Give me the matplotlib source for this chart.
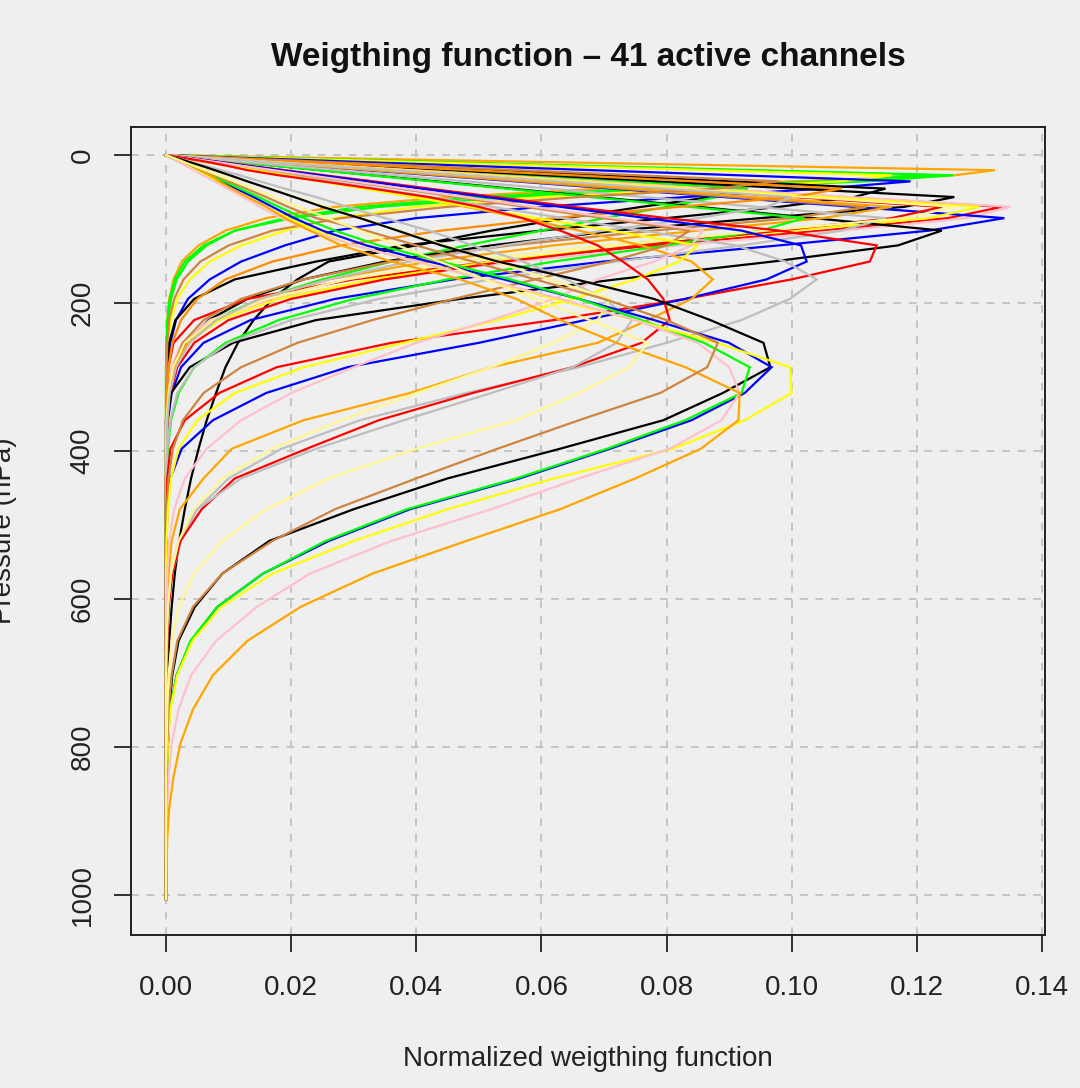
import matplotlib.pyplot as plt
import numpy as np

plt.rcParams['font.family'] = ['Liberation Sans', 'DejaVu Sans']

# pressure levels (hPa), top of atmosphere to surface
levels = [0.1, 0.29, 0.69, 1.42, 2.611, 4.407, 6.95, 10.37, 14.81, 20.4, 27.26,
          35.51, 45.29, 56.73, 69.97, 85.18, 102.05, 122.04, 143.84, 167.95,
          194.36, 222.94, 253.71, 286.6, 321.5, 358.28, 396.81, 436.95, 478.54,
          521.46, 565.54, 610.6, 656.43, 702.73, 749.12, 795.09, 839.95, 882.8,
          922.46, 957.44, 985.88, 1005.43]

# normalized weighting functions x 1000, one row per channel
# (levels below the last value listed are zero)
upper_wf = [
    [0, 1.9, 4.5, 9.3, 17, 28.6, 45, 67, 96, 132.5, 126, 100, 70, 45, 27, 16, 9.5, 5.2, 2.5, 1.2, 0.5, 0.2, 0.1],
    [0, 1.4, 3.1, 6.5, 12.1, 20.4, 32, 47.8, 68.3, 94.1, 125.8, 112, 82, 55, 34, 20, 11, 6, 3, 1.4, 0.6, 0.2, 0.1],
    [0, 1.3, 3, 6.3, 11.7, 19.8, 31, 46.4, 66.2, 91.3, 122, 105, 76, 50, 31, 19, 11, 6.5, 3.5, 1.7, 0.8, 0.3, 0.1],
    [0, 1.3, 2.9, 6, 11.1, 18.8, 29.6, 44, 63, 86.8, 116, 108, 85, 60, 40, 27, 19, 12, 7, 3.8, 1.8, 0.8, 0.3, 0.1],
    [0, 1, 2.3, 4.8, 8.8, 14.8, 23.3, 34.7, 49.6, 68.3, 91.4, 119, 105, 83, 60, 40, 27, 19, 12, 7, 3.5, 1.6, 0.7, 0.3, 0.1],
    [0, 0.7, 1.7, 3.6, 6.7, 11.2, 17.6, 26.3, 37.6, 51.8, 69.2, 90.2, 115, 110, 98, 80, 60, 38, 24, 11, 4.5, 1.5, 0.5, 0.2, 0.1],
    [0, 0.6, 1.4, 2.9, 5.4, 9, 14.2, 21.2, 30.2, 41.6, 55.7, 72.5, 92.5, 87, 76, 64, 52, 40, 26, 21, 17, 14, 11.5, 9.5, 8, 6.5, 5.2, 4, 3, 2.1, 1.4, 0.9, 0.5, 0.3, 0.1],
    [0, 0.6, 1.4, 2.9, 5.4, 9, 14.2, 21.3, 30.4, 41.9, 56, 72.9, 93, 88, 80, 70, 60, 48, 36, 25, 15, 7.5, 3.5, 1.5, 0.6, 0.2, 0.1],
    [0, 0.6, 1.5, 3.2, 5.8, 9.8, 15.5, 23.1, 32.9, 45.4, 60.6, 78.9, 100.5, 126, 118, 95, 72, 52, 35, 22, 13, 6.8, 3.2, 1.4, 0.6, 0.2, 0.1],
    [0, 0.5, 1.3, 2.7, 4.9, 8.4, 13.2, 19.8, 28.3, 39, 52.1, 67.9, 86.4, 108.3, 133.6, 125, 105, 78, 52, 30, 13, 4.5, 1.2, 0.4, 0.1],
    [0, 0.5, 1.4, 2.7, 5, 8.5, 13.4, 20, 28.6, 39.4, 52.7, 68.6, 87.3, 109.5, 135, 128, 108, 82, 56, 34, 17, 7, 2.5, 0.9, 0.3, 0.1],
    [0, 0.4, 1.1, 2.3, 4.2, 7, 11, 16.3, 23.3, 32, 42.9, 55.9, 71.3, 89.2, 110, 134, 122, 98, 70, 46, 27, 13.5, 6, 2.4, 0.9, 0.3, 0.1],
    [0, 0.5, 1.3, 2.6, 4.8, 8.2, 12.9, 19.2, 27.6, 38, 50.7, 66, 84.1, 105.4, 130, 122, 100, 75, 52, 33, 18, 8.5, 3.5, 1.3, 0.5, 0.2, 0.1],
    [0, 0.5, 1.2, 2.5, 4.6, 7.8, 12.3, 18.4, 26.3, 36.2, 48.4, 63, 80.2, 100.6, 124, 116, 98, 76, 54, 35, 20, 10, 4.5, 1.8, 0.7, 0.2, 0.1],
    [0, 0.4, 0.9, 1.7, 3.2, 5.3, 8.4, 12.6, 18, 24.8, 33.1, 43.2, 55.1, 68.9, 85.1, 103.5, 124, 117, 97, 72, 47, 24, 10.7, 3.8, 0.8, 0.2, 0.1],
    [0, 0.4, 1.1, 2.2, 4.1, 7.1, 11.1, 16.6, 23.7, 32.7, 43.7, 56.9, 72.5, 90.8, 112, 100, 78, 55, 36, 22, 12, 6, 2.7, 1.1, 0.4, 0.1],
    [0, 0.5, 1.2, 2.3, 4.3, 7.3, 11.5, 17.2, 24.6, 33.9, 45.2, 58.9, 75.1, 94.1, 116, 105, 85, 62, 42, 26, 15, 8, 3.5, 1.4, 0.5, 0.2, 0.1],
    [0, 0.3, 0.8, 1.7, 3.2, 5.3, 8.4, 12.4, 17.7, 24.4, 32.6, 42.5, 54.3, 67.9, 83.7, 102, 95, 80, 62, 45, 30, 18, 9.5, 4.5, 2, 0.8, 0.3, 0.1],
    [0, 0.3, 0.9, 2, 3.6, 6, 9.4, 14, 20, 27.5, 36.8, 48, 61.2, 76.6, 94.4, 115, 108, 92, 72, 52, 34, 20, 10, 4.5, 1.8, 0.7, 0.2, 0.1],
    [0, 0.8, 1.9, 3.9, 7.3, 12.2, 19.2, 28.6, 40.9, 56.3, 75.3, 98, 88, 66, 45, 28, 17, 10, 5.5, 2.8, 1.3, 0.5, 0.2, 0.1],
    [0, 0.6, 1.6, 3.3, 6.3, 10.5, 16.5, 24.7, 35.3, 48.6, 65, 84.7, 108, 100, 82, 62, 44, 28, 17, 9.5, 5, 2.4, 1, 0.4, 0.1],
    [0, 0.5, 1.3, 2.5, 4.7, 7.9, 12.5, 18.6, 26.7, 36.8, 49.1, 64, 81.5, 102.2, 126, 118, 96, 70, 47, 29, 16, 7.5, 3, 1.1, 0.4, 0.1],
    [0, 0.5, 1.2, 2.5, 4.6, 7.8, 12.3, 18.3, 26.1, 36, 48.1, 62.6, 79.8, 100, 96, 85, 70, 54, 39, 26, 15, 8, 3.8, 1.6, 0.6, 0.2, 0.1],
]
upper_col = ['orange', 'green', 'green', 'yellow', 'blue', 'black', 'black', 'green',
             'black', 'red', 'pink', 'blue', 'yellow', 'red', 'black', 'peru', 'orange',
             'green', 'gray', 'peru', 'darkorange', 'khaki', 'gray']

mid_wf = [
    [0, 0.2, 0.7, 1.4, 2.4, 4.1, 6.5, 9.7, 13.7, 19, 25.3, 33.1, 42.1, 52.8, 65.1, 80, 98, 113.6, 112.5, 100, 83, 62, 36, 17.7, 8.5, 3, 0.7, 0.2, 0.1],
    [0, 0.3, 0.6, 1.3, 2.4, 4, 6.3, 9.4, 13.3, 18.4, 24.6, 32, 40.8, 51.2, 63.1, 76.8, 92, 101.5, 102.4, 96, 83, 67, 50, 29, 16, 7.5, 2.5, 0.7, 0.2, 0.1],
    [0, 0.2, 0.5, 1.1, 1.9, 3.3, 5.2, 7.7, 11, 15.2, 20.3, 26.5, 33.8, 42.3, 52.1, 63.5, 76.1, 91, 99, 104, 99.7, 92, 80, 66, 48, 31, 18.5, 10, 5, 2.4, 1, 0.5, 0.2, 0.1],
    [0, 0.2, 0.4, 0.9, 1.7, 3, 4.7, 7, 10, 14, 19, 25, 32, 40, 48, 57, 66, 76, 84, 87.4, 84, 77, 69, 52, 39, 22, 10.5, 6, 2.2, 0.9, 0.4, 0.1],
    [0, 0.3, 0.6, 1.2, 2.2, 3.6, 5.7, 8.5, 12.1, 16.7, 22.3, 29.1, 37.2, 46.5, 57.4, 69.9, 83.7, 80, 71, 59, 46, 33, 21, 12, 6, 2.7, 1.1, 0.4, 0.1],
    [0, 0.2, 0.5, 1, 1.8, 3.1, 4.8, 7.2, 10.3, 14.2, 19, 24.7, 31.5, 39.5, 48.7, 59.3, 71.1, 85, 82, 75, 65, 53, 38, 22, 11, 5, 2, 0.8, 0.3, 0.1],
    [0, 0.3, 0.6, 1.2, 2.2, 3.7, 5.8, 8.8, 12.4, 17.2, 22.9, 29.9, 38.1, 47.7, 58.9, 71.6, 85.8, 84, 78, 69, 62, 52, 40, 30, 20, 12, 6.5, 3, 1.3, 0.5, 0.2, 0.1],
    [0, 0.2, 0.5, 1, 1.9, 3.2, 5, 7.3, 10, 13, 18, 25, 33, 42, 50, 57, 63, 69, 73, 77, 79.5, 80.5, 76, 65, 49, 34, 22.5, 11, 5.7, 2.3, 1, 0.4, 0.2, 0.1],
    [0, 0.1, 0.3, 0.6, 1.1, 1.9, 3, 4.5, 6.4, 8.8, 11.8, 15, 19, 24, 29, 35, 42, 49, 57, 64, 70, 74.5, 72, 65, 52, 38, 24, 12, 5, 2, 0.8, 0.3, 0.1],
    [0, 0.1, 0.3, 0.5, 0.9, 1.6, 2.5, 3.8, 5.4, 7.5, 9.9, 13, 16.5, 20.7, 25.6, 31.1, 37.3, 44.6, 52.5, 61.3, 71, 69, 62, 52, 40, 28, 17, 9, 4.5, 2, 0.8, 0.3, 0.1],
]
mid_col = ['red', 'blue', 'gray', 'orange', 'peru', 'yellow', 'pink', 'red', 'gray', 'khaki']

lower_wf = [
    [0, 0.1, 0.3, 0.6, 1.1, 1.8, 2.8, 4.1, 5.8, 7.8, 10.2, 13, 16.5, 20.5, 25, 31, 37, 44, 53, 65.5, 78, 87, 95.5, 96.6, 89, 79.5, 63, 45, 30, 16.5, 9, 4.6, 2, 1, 0.5, 0.3, 0.2, 0.1, 0.1],
    [0, 0.1, 0.2, 0.3, 0.6, 1.1, 1.7, 2.6, 3.7, 5, 6.8, 8.8, 11.2, 14, 17, 20.5, 25, 32, 42, 54, 66, 78, 90, 96.8, 92.5, 84, 71, 56.5, 39, 26, 15.5, 8.2, 4, 1.7, 0.6, 0.3, 0.2, 0.1],
    [0, 0.1, 0.2, 0.4, 0.7, 1.2, 1.9, 2.8, 4, 5.4, 7.2, 9.3, 11.8, 14.8, 18, 22, 27, 34, 44, 55, 66, 76, 86, 93.3, 92, 83, 70.5, 56, 38.5, 25.5, 15.5, 8.2, 3.9, 1.7, 0.6, 0.3, 0.2, 0.1],
    [0, 0.1, 0.2, 0.3, 0.6, 1, 1.6, 2.4, 3.4, 4.7, 6.3, 8.2, 10.4, 13, 16, 19.5, 24, 30, 40, 51, 62, 75, 88, 99.7, 100, 92.5, 81, 62, 45, 30, 17, 8.8, 4.2, 1.8, 0.7, 0.3, 0.2, 0.1],
    [0, 0.1, 0.2, 0.3, 0.5, 0.9, 1.5, 2.2, 3.2, 4.4, 5.9, 7.7, 9.8, 12.3, 15, 18.5, 23, 30, 40, 51, 63, 75, 85, 90, 91.7, 88.8, 80.5, 66, 52, 36, 23, 14.5, 8, 4, 2, 0.9, 0.4, 0.2, 0.1],
    [0, 0.1, 0.2, 0.4, 0.8, 1.4, 2.2, 3.1, 4.2, 5.5, 7, 8.5, 10.5, 13, 16, 19, 23, 28, 36, 47, 56, 63, 72, 83, 91.7, 91.5, 85.5, 75, 63, 48, 33, 21.5, 13, 7.5, 4.3, 2.3, 1.2, 0.5, 0.2, 0.1],
    [0, 0.1, 0.2, 0.4, 0.7, 1.3, 2, 3, 4.3, 5.9, 7.8, 10, 12.8, 16, 19.5, 24, 32, 40, 49, 59, 70, 80, 88.2, 86.5, 79, 66, 53, 40, 27, 17, 9, 4.3, 1.8, 0.9, 0.4, 0.2, 0.1],
    [0, 0.1, 0.2, 0.4, 0.8, 1.3, 2.1, 3.1, 4.5, 6.2, 8.3, 10.8, 13.8, 17.2, 21.2, 25.8, 31, 37, 43.7, 51, 59, 67.7, 77, 74, 66, 56, 40, 26, 16, 9, 4.5, 2, 0.9, 0.4, 0.2, 0.1],
]
lower_col = ['black', 'blue', 'green', 'yellow', 'pink', 'orange', 'peru', 'khaki']

palette = {'black': '#000000', 'red': '#FF0000', 'green': '#00FF00', 'blue': '#0000FF',
           'orange': '#FFA500', 'darkorange': '#FF8C00', 'yellow': '#FFFF00',
           'gray': '#BEBEBE', 'pink': '#FFC0CB', 'peru': '#CD853F', 'khaki': '#FFF68F'}

xticks = [0.00, 0.02, 0.04, 0.06, 0.08, 0.10, 0.12, 0.14]
yticks = [0, 200, 400, 600, 800, 1000]

bg = '#efefef'
fig = plt.figure(figsize=(10.8, 10.88), dpi=100, facecolor=bg)
ax = fig.add_axes([0.1213, 0.1406, 0.8463, 0.7427])
ax.set_facecolor(bg)

for rows, cols in ((upper_wf, upper_col), (mid_wf, mid_col), (lower_wf, lower_col)):
    for row, c in zip(rows, cols):
        w = np.zeros(len(levels))
        w[:len(row)] = row
        ax.plot(w / 1000, levels, color=palette[c], lw=1.6, solid_joinstyle='miter')

ax.set_xlim(-0.0056, 0.1405)
ax.set_ylim(1054, -38)
ax.set_xticks(xticks)
ax.set_xticklabels(['%.2f' % v for v in xticks])
ax.set_yticks(yticks)
ax.set_yticklabels([str(v) for v in yticks], rotation=90, va='center')
ax.grid(color='#c4c4c4', linestyle=(0, (4, 4)), lw=1.4)
ax.set_axisbelow(True)
ax.tick_params(direction='out', length=12.5, width=1.3, labelsize=20, colors='#222222')
ax.tick_params(axis='x', pad=16)
ax.tick_params(axis='y', pad=13)
for s in ax.spines.values():
    s.set_linewidth(1.4)
    s.set_color('#222222')

fig.text(0.5444, 0.9476, 'Weigthing function \u2013 41 active channels',
         ha='center', va='center', fontsize=24, fontweight='bold', color='#111111')
fig.text(0.5444, 0.0267, 'Normalized weigthing function',
         ha='center', va='center', fontsize=20, color='#222222')
fig.text(0.004, 0.512, 'Pressure (hPa)', rotation=90,
         ha='center', va='center', fontsize=20, color='#222222')

fig.savefig('out.png', dpi=100, facecolor=bg)
